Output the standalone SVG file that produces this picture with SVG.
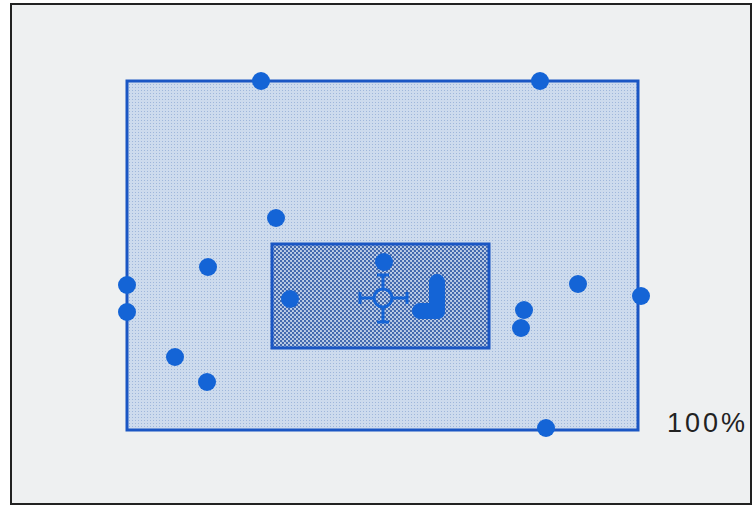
<svg xmlns="http://www.w3.org/2000/svg" width="754" height="508" viewBox="0 0 754 508">
<defs>
<pattern id="fine" width="3" height="3" patternUnits="userSpaceOnUse">
<rect width="3" height="3" fill="#cddbed"/>
<rect width="1" height="1" fill="#9fb7db"/>
</pattern>
<pattern id="coarse" width="4" height="4" patternUnits="userSpaceOnUse">
<rect width="4" height="4" fill="#c0d0e8"/>
<circle cx="1" cy="1" r="1.2" fill="#3f66ad"/>
<circle cx="3" cy="3" r="1.2" fill="#3f66ad"/>
</pattern>
<style>
.frame{fill:#eef0f1;stroke:#222;stroke-width:2}
.box{stroke:#1a56c4;stroke-width:3}
.dot{fill:#1464d6}
.cross{stroke:#1464d6;stroke-width:3;fill:none}
.lbl{font-family:"Liberation Sans",Arial,sans-serif;font-size:27px;letter-spacing:3px;fill:#222}
</style>
</defs>
<rect class="frame" x="11" y="4" width="740" height="500"/>
<g id="outer-area">
<rect class="box" x="127" y="81" width="511" height="349" fill="url(#fine)"/>
</g>
<g id="inner-area">
<rect class="box" x="272" y="244" width="217" height="104" fill="url(#coarse)" stroke-width="2"/>
</g>
<g id="dots">
<circle class="dot" cx="261" cy="81" r="9"/>
<circle class="dot" cx="540" cy="81" r="9"/>
<circle class="dot" cx="276" cy="218" r="9"/>
<circle class="dot" cx="208" cy="267" r="9"/>
<circle class="dot" cx="127" cy="285" r="9"/>
<circle class="dot" cx="127" cy="312" r="9"/>
<circle class="dot" cx="175" cy="357" r="9"/>
<circle class="dot" cx="207" cy="382" r="9"/>
<circle class="dot" cx="384" cy="262" r="9"/>
<circle class="dot" cx="290" cy="299" r="9"/>
<circle class="dot" cx="524" cy="310" r="9"/>
<circle class="dot" cx="521" cy="328" r="9"/>
<circle class="dot" cx="578" cy="284" r="9"/>
<circle class="dot" cx="641" cy="296" r="9"/>
<circle class="dot" cx="546" cy="428" r="9"/>
</g>
<g id="cluster">
<path class="dot" d="M429,282 a8,8 0 0 1 16,0 V312 a7,7 0 0 1 -7,7 H420 a8,8 0 0 1 0,-16 H429 Z"/>
</g>
<g id="crosshair">
<circle class="cross" cx="383" cy="298" r="9" stroke-width="3.5"/>
<path class="cross" d="M360,298 H374 M392,298 H407 M383,275 V289 M383,307 V322 M360,292 V304 M407,292 V304 M377,275 H389 M377,322 H389"/>
</g>
<g id="label">
<text class="lbl" x="667" y="432">100%</text>
</g>
</svg>
